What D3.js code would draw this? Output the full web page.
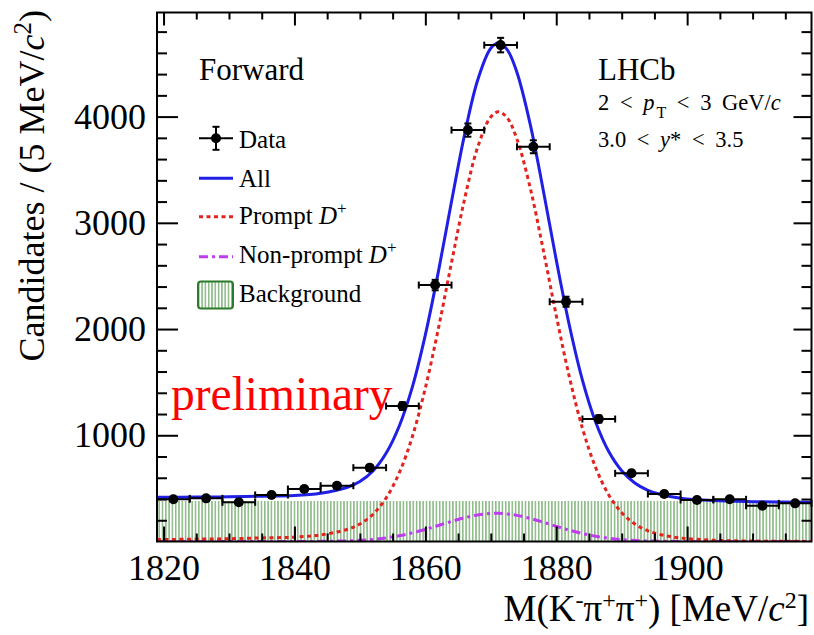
<!DOCTYPE html>
<html>
<head>
<meta charset="utf-8">
<script src="https://cdn.jsdelivr.net/npm/d3@7"></script>
<style>
  html, body { margin: 0; padding: 0; background: #ffffff; }
  svg { display: block; }
  text { font-family: "Liberation Serif", "Times New Roman", "DejaVu Serif", serif; fill: #000; }
</style>
</head>
<body>
<svg id="chart" width="814" height="635"></svg>
<script>
// ---------------- data ----------------
const binCenters = [1821.5, 1826.5, 1831.5, 1836.5, 1841.5, 1846.5, 1851.5, 1856.5, 1861.5, 1866.5,
                    1871.5, 1876.5, 1881.5, 1886.5, 1891.5, 1896.5, 1901.5, 1906.5, 1911.5, 1916.5];
const counts = [397, 406, 369, 438, 494, 525, 695, 1275, 2414, 3873,
                4673, 3716, 2257, 1153, 642, 447, 391, 397, 337, 359];
const binHalfWidth = 2.5;

const curveX = [1819, 1825, 1830, 1835, 1840, 1844, 1848, 1850, 1852, 1854,
                1856, 1858, 1860, 1862, 1864, 1866, 1868, 1870, 1871.2, 1872.5,
                1874, 1876, 1878, 1880, 1882, 1884, 1886, 1888, 1890, 1892,
                1894, 1896, 1899, 1904, 1910, 1919];
const allFit = [416, 418, 421, 427, 433, 454, 508, 565, 664, 830,
                1085, 1451, 1945, 2543, 3200, 3833, 4345, 4644, 4692, 4630,
                4415, 3934, 3312, 2651, 2036, 1520, 1127, 849, 666, 551,
                482, 442, 408, 385, 375, 369];
const promptFit = [18, 22, 26, 34, 41, 62, 113, 165, 256, 409,
                   644, 984, 1445, 2007, 2626, 3225, 3712, 3997, 4045, 3989,
                   3787, 3335, 2750, 2128, 1550, 1066, 699, 441, 271, 165,
                   101, 64, 33, 12, 4, 1];
const nonPromptFit = [0, 0, 0, 0, 0.3, 1.5, 6, 11, 20, 34,
                      54, 81, 114, 151, 189, 224, 250, 264, 265, 259,
                      246, 218, 182, 143, 107, 75, 50, 31, 18, 10,
                      5, 3, 1, 0, 0, 0];
const backgroundX = [1819, 1919];
const backgroundY = [382, 382];

const xTickValues = [1820, 1840, 1860, 1880, 1900];
const yTickValues = [1000, 2000, 3000, 4000];
const xDomain = [1819, 1919];
const yDomain = [0, 4980];

// ---------------- layout ----------------
const L = 157, R = 811.5, T = 12.5, B = 541.5;
const svg = d3.select("#chart");
const x = d3.scaleLinear().domain(xDomain).range([L, R]);
const y = d3.scaleLinear().domain(yDomain).range([B, T]);

const defs = svg.append("defs");
defs.append("clipPath").attr("id", "plotClip")
  .append("rect").attr("x", L).attr("y", T).attr("width", R - L).attr("height", B - T);
const pat = defs.append("pattern").attr("id", "hatch")
  .attr("patternUnits", "userSpaceOnUse").attr("width", 3.3).attr("height", 10);
pat.append("rect").attr("x", 0).attr("y", 0).attr("width", 1.6).attr("height", 10).attr("fill", "#8fbc8a");

const plot = svg.append("g").attr("clip-path", "url(#plotClip)");

// background (hatched)
const bgData = backgroundX.map((v, i) => ({ x: v, y: backgroundY[i] }));
plot.append("path")
  .datum(bgData)
  .attr("d", d3.area().x(d => x(d.x)).y0(y(0)).y1(d => y(d.y)))
  .attr("fill", "url(#hatch)");

function curveData(vals) { return curveX.map((v, i) => ({ x: v, y: vals[i] })); }
const line = d3.line().x(d => x(d.x)).y(d => y(d.y)).curve(d3.curveCatmullRom.alpha(0.5));

const blue = "#1f1fe6", red = "#e2231f", magenta = "#bf3cf0";

plot.append("path").datum(curveData(nonPromptFit)).attr("d", line)
  .attr("fill", "none").attr("stroke", magenta).attr("stroke-width", 3)
  .attr("stroke-dasharray", "9,4,3,4");
plot.append("path").datum(curveData(promptFit)).attr("d", line)
  .attr("fill", "none").attr("stroke", red).attr("stroke-width", 3)
  .attr("stroke-dasharray", "4,3.5");
plot.append("path").datum(curveData(allFit)).attr("d", line)
  .attr("fill", "none").attr("stroke", blue).attr("stroke-width", 3);

// data points
const pts = svg.append("g");
binCenters.forEach((c, i) => {
  const n = counts[i], e = Math.sqrt(n);
  const g = pts.append("g").attr("stroke", "#000").attr("stroke-width", 2);
  g.append("line").attr("x1", x(c - binHalfWidth)).attr("x2", x(c + binHalfWidth)).attr("y1", y(n)).attr("y2", y(n));
  [c - binHalfWidth, c + binHalfWidth].forEach(v =>
    g.append("line").attr("x1", x(v)).attr("x2", x(v)).attr("y1", y(n) - 3.5).attr("y2", y(n) + 3.5));
  g.append("line").attr("x1", x(c)).attr("x2", x(c)).attr("y1", y(n + e)).attr("y2", y(n - e));
  [n + e, n - e].forEach(v =>
    g.append("line").attr("x1", x(c) - 3.5).attr("x2", x(c) + 3.5).attr("y1", y(v)).attr("y2", y(v)));
  pts.append("circle").attr("cx", x(c)).attr("cy", y(n)).attr("r", 5).attr("fill", "#000");
});

// ---------------- axes ----------------
const axG = svg.append("g");
// bottom
axG.append("g").attr("transform", `translate(0,${B})`)
  .call(d3.axisBottom(x).tickValues(d3.range(1820, 1919, 5)).tickSize(0).tickFormat(""))
  .call(g => g.select(".domain").remove())
  .call(g => g.selectAll(".tick line").attr("y2", d => (d % 20 === 0 ? -15 : -8))
          .attr("stroke", "#000").attr("stroke-width", 2));
axG.append("g").attr("transform", `translate(0,${B})`)
  .call(d3.axisBottom(x).tickValues(xTickValues).tickSize(0).tickPadding(0).tickFormat(d3.format("d")))
  .call(g => g.select(".domain").remove())
  .call(g => g.selectAll(".tick text").attr("font-size", 36).attr("dy", null).attr("y", 38.5)
          .attr("font-family", '"Liberation Serif", "Times New Roman", serif').attr("fill", "#000"));
// top
axG.append("g").attr("transform", `translate(0,${T})`)
  .call(d3.axisTop(x).tickValues(d3.range(1820, 1919, 5)).tickSize(0).tickFormat(""))
  .call(g => g.select(".domain").remove())
  .call(g => g.selectAll(".tick line").attr("y2", d => (d % 20 === 0 ? 13 : 7))
          .attr("stroke", "#000").attr("stroke-width", 2));
// left
axG.append("g").attr("transform", `translate(${L},0)`)
  .call(d3.axisLeft(y).tickValues(d3.range(200, 4980, 200)).tickSize(0).tickFormat(""))
  .call(g => g.select(".domain").remove())
  .call(g => g.selectAll(".tick line").attr("x2", d => (d % 1000 === 0 ? 21 : 10))
          .attr("stroke", "#000").attr("stroke-width", 2));
axG.append("g").attr("transform", `translate(${L},0)`)
  .call(d3.axisLeft(y).tickValues(yTickValues).tickSize(0).tickPadding(11).tickFormat(d3.format("d")))
  .call(g => g.select(".domain").remove())
  .call(g => g.selectAll(".tick text").attr("font-size", 36)
          .attr("font-family", '"Liberation Serif", "Times New Roman", serif').attr("fill", "#000"));
// right
axG.append("g").attr("transform", `translate(${R},0)`)
  .call(d3.axisRight(y).tickValues(d3.range(200, 4980, 200)).tickSize(0).tickFormat(""))
  .call(g => g.select(".domain").remove())
  .call(g => g.selectAll(".tick line").attr("x2", d => (d % 1000 === 0 ? -18 : -10))
          .attr("stroke", "#000").attr("stroke-width", 2));
// frame
svg.append("rect").attr("x", L).attr("y", T).attr("width", R - L).attr("height", B - T)
  .attr("fill", "none").attr("stroke", "#000").attr("stroke-width", 2);

// ---------------- axis titles ----------------
const yt = svg.append("text").attr("transform", "translate(44,10) rotate(-90)")
  .attr("text-anchor", "end").attr("font-size", 36);
yt.append("tspan").text("Candidates / (5 MeV/");
yt.append("tspan").attr("font-style", "italic").text("c");
yt.append("tspan").attr("font-size", 25).attr("dy", -13).text("2");
yt.append("tspan").attr("dy", 13).text(")");

const xt = svg.append("text").attr("x", 809).attr("y", 621).attr("text-anchor", "end").attr("font-size", 37);
xt.append("tspan").text("M(K");
xt.append("tspan").attr("font-size", 24).attr("dy", -13).text("-");
xt.append("tspan").attr("dy", 13).text("π");
xt.append("tspan").attr("font-size", 24).attr("dy", -13).text("+");
xt.append("tspan").attr("dy", 13).text("π");
xt.append("tspan").attr("font-size", 24).attr("dy", -13).text("+");
xt.append("tspan").attr("dy", 13).text(") [MeV/");
xt.append("tspan").attr("font-style", "italic").text("c");
xt.append("tspan").attr("font-size", 24).attr("dy", -13).text("2");
xt.append("tspan").attr("dy", 13).text("]");

// ---------------- labels ----------------
svg.append("text").attr("x", 199).attr("y", 80).attr("font-size", 31).text("Forward");
svg.append("text").attr("x", 598).attr("y", 80).attr("font-size", 31).text("LHCb");
const l1 = svg.append("text").attr("x", 598).attr("y", 110).attr("font-size", 22.5)
  .attr("word-spacing", 5).style("word-spacing", "5px");
l1.append("tspan").text("2 < ");
l1.append("tspan").attr("font-style", "italic").text("p");
l1.append("tspan").attr("font-size", 16).attr("dy", 8).attr("dx", 2).text("T");
l1.append("tspan").attr("dy", -8).text(" < 3 GeV/");
l1.append("tspan").attr("font-style", "italic").text("c");
const l2 = svg.append("text").attr("x", 598).attr("y", 146.7).attr("font-size", 22.5)
  .attr("word-spacing", 5).style("word-spacing", "5px");
l2.append("tspan").text("3.0 < ");
l2.append("tspan").attr("font-style", "italic").text("y");
l2.append("tspan").text("* < 3.5");

svg.append("text").attr("x", 171).attr("y", 410).attr("font-size", 47.5).attr("fill", "#ff0000")
  .style("fill", "#ff0000").text("preliminary");

// ---------------- legend ----------------
const lg = svg.append("g");
const lx0 = 199, lx1 = 233, ltx = 239;
// Data
const dY = 138.3;
lg.append("line").attr("x1", lx0).attr("x2", lx1).attr("y1", dY).attr("y2", dY).attr("stroke", "#000").attr("stroke-width", 2);
lg.append("line").attr("x1", (lx0 + lx1) / 2).attr("x2", (lx0 + lx1) / 2).attr("y1", dY - 11.5).attr("y2", dY + 11.5).attr("stroke", "#000").attr("stroke-width", 2);
[dY - 11.5, dY + 11.5].forEach(v => lg.append("line").attr("x1", (lx0 + lx1) / 2 - 3.5).attr("x2", (lx0 + lx1) / 2 + 3.5)
  .attr("y1", v).attr("y2", v).attr("stroke", "#000").attr("stroke-width", 2));
lg.append("circle").attr("cx", (lx0 + lx1) / 2).attr("cy", dY).attr("r", 5).attr("fill", "#000");
lg.append("text").attr("x", ltx).attr("y", 147.7).attr("font-size", 25).text("Data");
// All
lg.append("line").attr("x1", lx0).attr("x2", lx1).attr("y1", 178.3).attr("y2", 178.3).attr("stroke", blue).attr("stroke-width", 3);
lg.append("text").attr("x", ltx).attr("y", 186.7).attr("font-size", 25).text("All");
// Prompt
lg.append("line").attr("x1", lx0).attr("x2", lx1).attr("y1", 216.7).attr("y2", 216.7).attr("stroke", red).attr("stroke-width", 3).attr("stroke-dasharray", "4,3.5");
const pt = lg.append("text").attr("x", ltx).attr("y", 224).attr("font-size", 25);
pt.append("tspan").text("Prompt ");
pt.append("tspan").attr("font-style", "italic").text("D");
pt.append("tspan").attr("font-size", 17).attr("dy", -10).text("+");
// Non-prompt
lg.append("line").attr("x1", lx0).attr("x2", lx1).attr("y1", 256.7).attr("y2", 256.7).attr("stroke", magenta).attr("stroke-width", 3).attr("stroke-dasharray", "9,4,3,4");
const npt = lg.append("text").attr("x", ltx).attr("y", 263.3).attr("font-size", 25);
npt.append("tspan").text("Non-prompt ");
npt.append("tspan").attr("font-style", "italic").text("D");
npt.append("tspan").attr("font-size", 17).attr("dy", -10).text("+");
// Background
lg.append("rect").attr("x", 198).attr("y", 281.5).attr("width", 35).attr("height", 27).attr("rx", 3)
  .attr("fill", "url(#hatch)").attr("stroke", "#2b7a2b").attr("stroke-width", 2);
lg.append("text").attr("x", ltx).attr("y", 301.7).attr("font-size", 25).text("Background");
</script>
</body>
</html>
